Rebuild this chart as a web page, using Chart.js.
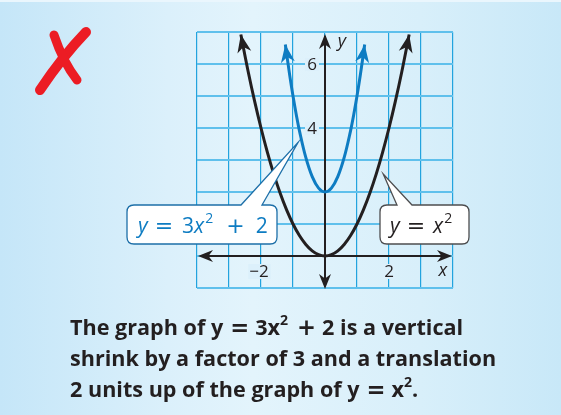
<!DOCTYPE html>
<html>
<head>
<meta charset="utf-8">
<script src="https://cdn.jsdelivr.net/npm/chart.js@4.4.0/dist/chart.umd.min.js"></script>
<style>
  html, body { margin: 0; padding: 0; }
  body {
    width: 561px; height: 415px; overflow: hidden;
    background: linear-gradient(to right, #c5e6f8 0%, #dbf0fb 30%, #e3f4fc 45%, #d8effa 75%, #c8e8f8 100%);
  }
  #wrap { position: relative; width: 561px; height: 415px; border-top: 2px solid #eaf6fd; box-sizing: border-box; }
  canvas { position: absolute; left: 0; top: 0; }
</style>
</head>
<body>
<div id="wrap"><canvas id="graph" width="561" height="415"></canvas></div>
<script>
// y = x^2 (black)
var parentX = [-2.63, -2.4, -2.2, -2, -1.8, -1.6, -1.4, -1.2, -1, -0.8, -0.6, -0.4, -0.2, 0, 0.2, 0.4, 0.6, 0.8, 1, 1.2, 1.4, 1.6, 1.8, 2, 2.2, 2.4, 2.63];
var parentY = [6.92, 5.76, 4.84, 4, 3.24, 2.56, 1.96, 1.44, 1, 0.64, 0.36, 0.16, 0.04, 0, 0.04, 0.16, 0.36, 0.64, 1, 1.44, 1.96, 2.56, 3.24, 4, 4.84, 5.76, 6.92];
// y = 3x^2 + 2 (blue)
var blueX = [-1.24, -1.1, -1, -0.9, -0.8, -0.6, -0.4, -0.2, 0, 0.2, 0.4, 0.6, 0.8, 0.9, 1, 1.1, 1.24];
var blueY = [6.61, 5.63, 5, 4.43, 3.92, 3.08, 2.48, 2.12, 2, 2.12, 2.48, 3.08, 3.92, 4.43, 5, 5.63, 6.61];
var xTickLabels = [-2, 2];
var yTickLabels = [4, 6];

var black = '#231f20';
var blue = '#0e7cc2';

function pts(xs, ys) {
  var out = [];
  for (var i = 0; i < xs.length; i++) out.push({x: xs[i], y: ys[i]});
  return out;
}

// barbed arrow head with tip at (x,y) pointing along angle a
function arrowHead(ctx, x, y, a, len, half, color) {
  ctx.save();
  ctx.translate(x, y);
  ctx.rotate(a);
  ctx.beginPath();
  ctx.moveTo(0, 0);
  ctx.lineTo(-len, -half);
  ctx.lineTo(-len * 0.7, 0);
  ctx.lineTo(-len, half);
  ctx.closePath();
  ctx.fillStyle = color;
  ctx.fill();
  ctx.restore();
}

function callout(ctx, l, t, r, b, rad, b1, b2, tip, stroke) {
  ctx.beginPath();
  ctx.moveTo(l + rad, t);
  ctx.lineTo(b1, t);
  ctx.lineTo(tip[0], tip[1]);
  ctx.lineTo(b2, t);
  ctx.lineTo(r - rad, t);
  ctx.quadraticCurveTo(r, t, r, t + rad);
  ctx.lineTo(r, b - rad);
  ctx.quadraticCurveTo(r, b, r - rad, b);
  ctx.lineTo(l + rad, b);
  ctx.quadraticCurveTo(l, b, l, b - rad);
  ctx.lineTo(l, t + rad);
  ctx.quadraticCurveTo(l, t, l + rad, t);
  ctx.closePath();
  ctx.fillStyle = '#ffffff';
  ctx.fill();
  ctx.lineWidth = 1.3;
  ctx.strokeStyle = stroke;
  ctx.stroke();
}

// draw a run of text pieces; piece = [text, font, dy, gapAfter]
function rich(ctx, x, y, pieces, color) {
  ctx.fillStyle = color;
  ctx.textAlign = 'left';
  ctx.textBaseline = 'alphabetic';
  for (var i = 0; i < pieces.length; i++) {
    ctx.font = pieces[i][1];
    ctx.fillText(pieces[i][0], x, y + (pieces[i][2] || 0));
    x += ctx.measureText(pieces[i][0]).width + (pieces[i][3] || 0);
  }
  return x;
}

var axesPlugin = {
  id: 'axes',
  beforeDatasetsDraw: function(chart) {
    var ctx = chart.ctx, xs = chart.scales.x, ys = chart.scales.y, a = chart.chartArea;
    var x0 = xs.getPixelForValue(0), y0 = ys.getPixelForValue(0);
    ctx.save();
    ctx.strokeStyle = black;
    ctx.lineWidth = 2;
    ctx.beginPath();
    ctx.moveTo(a.left + 4, y0); ctx.lineTo(a.right - 4, y0);
    ctx.moveTo(x0, a.top + 4); ctx.lineTo(x0, a.bottom - 2);
    ctx.stroke();
    arrowHead(ctx, a.left + 1, y0, Math.PI, 15, 6, black);
    arrowHead(ctx, a.right - 1, y0, 0, 15, 6, black);
    arrowHead(ctx, x0, a.top + 2, -Math.PI / 2, 15, 6, black);
    arrowHead(ctx, x0, a.bottom + 1, Math.PI / 2, 15, 6, black);
    ctx.restore();
  },
  afterDatasetsDraw: function(chart) {
    var ctx = chart.ctx, xs = chart.scales.x, ys = chart.scales.y;
    ctx.save();
    // arrow heads at the ends of both curves
    chart.data.datasets.forEach(function(ds) {
      var d = ds.data, n = d.length;
      var ends = [[d[0], d[1]], [d[n - 1], d[n - 2]]];
      ends.forEach(function(e) {
        var px = xs.getPixelForValue(e[0].x), py = ys.getPixelForValue(e[0].y);
        var qx = xs.getPixelForValue(e[1].x), qy = ys.getPixelForValue(e[1].y);
        arrowHead(ctx, px, py, Math.atan2(py - qy, px - qx), 18, 7, ds.borderColor);
      });
    });

    // tick labels with a patch of background behind them
    var bg = '#dcf0fb';
    ctx.font = '17px "Open Sans"';
    ctx.textBaseline = 'middle';
    ctx.textAlign = 'center';
    var x0 = xs.getPixelForValue(0), y0 = ys.getPixelForValue(0);
    yTickLabels.forEach(function(v) {
      var py = ys.getPixelForValue(v);
      ctx.fillStyle = bg;
      ctx.fillRect(x0 - 20, py - 6, 14, 13);
      ctx.fillStyle = black;
      ctx.fillText(String(v), x0 - 13, py + 1);
    });
    xTickLabels.forEach(function(v) {
      var px = xs.getPixelForValue(v);
      var s = v < 0 ? '\u2212' + Math.abs(v) : String(v);
      var w = ctx.measureText(s).width;
      ctx.fillStyle = bg;
      ctx.fillRect(px - w / 2 - (v < 0 ? 2 : 1) - 1, y0 + 8, w + 3, 15);
      ctx.fillStyle = black;
      ctx.fillText(s, px - (v < 0 ? 2 : 0), y0 + 16);
    });
    ctx.font = 'italic 18px "Open Sans"';
    ctx.fillStyle = black;
    ctx.fillText('x', xs.getPixelForValue(3.68), y0 + 15);
    ctx.fillText('y', x0 + 17, ys.getPixelForValue(6.7));

    // callouts
    var tipB = [xs.getPixelForValue(-0.84), ys.getPixelForValue(3.55)];
    callout(ctx, 127, 203, 277, 242, 7, 241, 262, tipB, '#1d6fa8');
    var f = '21px "Open Sans"', fi = 'italic 21px "Open Sans"', fs = '14px "Open Sans"';
    var eq = '22px "DejaVu Sans"';
    rich(ctx, 138, 231, [['y', fi, 0, 7], ['=', eq, 0, 9], ['3', f], ['x', fi, 0, 1], ['2', fs, -10, 13], ['+', eq, 0, 11], ['2', f]], blue);
    var tipK = [xs.getPixelForValue(1.82), ys.getPixelForValue(2.56)];
    callout(ctx, 380, 203, 469, 242, 7, 397, 412, tipK, '#4d4d4f');
    rich(ctx, 390, 231, [['y', fi, 0, 7], ['=', eq, 0, 8], ['x', fi, 0, 1], ['2', fs, -10]], black);

    // red X
    ctx.strokeStyle = '#ec1c24';
    ctx.lineCap = 'round';
    ctx.lineWidth = 10;
    ctx.beginPath();
    ctx.moveTo(40, 88);
    ctx.quadraticCurveTo(62, 55, 86, 30);
    ctx.stroke();
    ctx.lineWidth = 9;
    ctx.beginPath();
    ctx.moveTo(54, 33);
    ctx.quadraticCurveTo(63, 60, 77, 78);
    ctx.stroke();

    // caption, sized so the second line spans the same width as the picture
    ctx.font = 'bold 20px "Open Sans"';
    var line2 = 'shrink by a factor of 3 and a translation';
    var size = 20 * 427 / ctx.measureText(line2).width;
    var cf = 'bold ' + size.toFixed(1) + 'px "Open Sans"';
    var cs = 'bold ' + (size * 0.65).toFixed(1) + 'px "Open Sans"';
    var ce = 'bold ' + (size * 1.05).toFixed(1) + 'px "DejaVu Sans"';
    rich(ctx, 70, 333, [['The graph of y', cf, 0, 7], ['=', ce, 0, 6], ['3x', cf], ['2', cs, -10, 9], ['+', ce, 0, 6], ['2 is a vertical', cf]], black);
    rich(ctx, 70, 364, [[line2, cf]], black);
    rich(ctx, 70, 395, [['2 units up of the graph of y', cf, 0, 7], ['=', ce, 0, 6], ['x', cf], ['2', cs, -10], ['.', cf]], black);
    ctx.restore();
  }
};

new Chart(document.getElementById('graph'), {
  type: 'line',
  data: {
    datasets: [
      { data: pts(parentX, parentY), borderColor: black, borderWidth: 3, pointRadius: 0, tension: 0.4, fill: false },
      { data: pts(blueX, blueY), borderColor: blue, borderWidth: 3, pointRadius: 0, tension: 0.4, fill: false }
    ]
  },
  options: {
    responsive: false,
    animation: false,
    events: [],
    layout: { padding: { left: 197, top: 30, right: 108, bottom: 129 } },
    plugins: { legend: { display: false }, tooltip: { enabled: false } },
    scales: {
      x: {
        type: 'linear', min: -4, max: 4,
        ticks: { display: false, stepSize: 1 },
        grid: { color: '#22a3de', lineWidth: 1.2, drawTicks: false },
        border: { display: false }
      },
      y: {
        type: 'linear', min: -1, max: 7,
        ticks: { display: false, stepSize: 1 },
        grid: { color: '#5fc0ec', lineWidth: 2, drawTicks: false },
        border: { display: false }
      }
    }
  },
  plugins: [axesPlugin]
});
</script>
</body>
</html>
